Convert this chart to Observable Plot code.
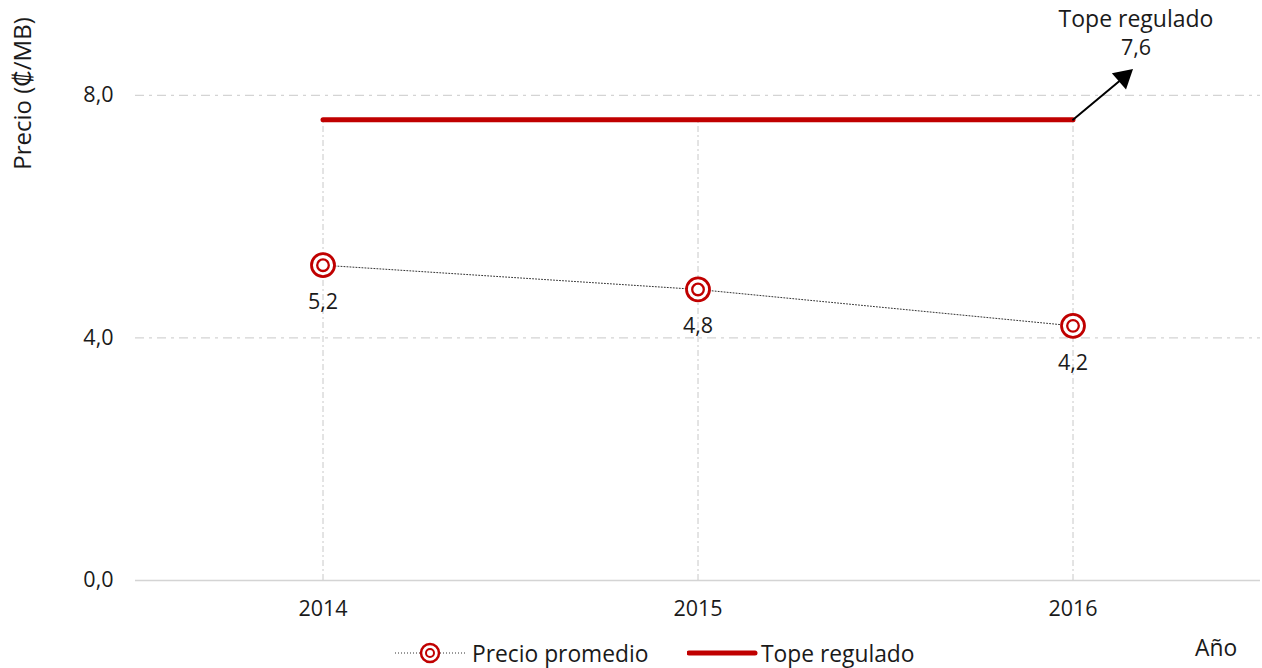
<!DOCTYPE html>
<html>
<head>
<meta charset="utf-8">
<script src="https://cdn.jsdelivr.net/npm/d3@7"></script>
<script src="https://cdn.jsdelivr.net/npm/@observablehq/plot@0.6"></script>
<style>
  body { margin: 0; background: #fff; font-family: "Open Sans", Lato, sans-serif; color: #1a1a1a; }
  #chart { position: relative; width: 1262px; }
  #legend { position: relative; width: 1262px; height: 32px; font-size: 22.8px; }
  .lg { position: absolute; top: 3px; display: flex; align-items: center; height: 28px; }
</style>
</head>
<body>
<div id="chart"></div>
<div id="legend">
  <div class="lg" style="left:395px">
    <svg width="72" height="28"><line x1="0" x2="70" y1="14" y2="14" stroke="#333" stroke-width="1" stroke-dasharray="1,2"/><circle cx="35" cy="14" r="9" fill="#fff" stroke="#c00000" stroke-width="2.5"/><circle cx="35" cy="14" r="4" fill="none" stroke="#c00000" stroke-width="2"/></svg>
    <span style="margin-left:5px">Precio promedio</span>
  </div>
  <div class="lg" style="left:687px">
    <svg width="72" height="28"><line x1="2" x2="68" y1="14" y2="14" stroke="#c00000" stroke-width="5" stroke-linecap="round"/></svg>
    <span style="margin-left:2px">Tope regulado</span>
  </div>
  <div class="lg" style="left:1195px; top:-3px">Año</div>
</div>
<script>
const years = [2014, 2015, 2016];
const precioPromedio = [5.2, 4.8, 4.2];
const topeRegulado = [7.6, 7.6, 7.6];
const yTicks = [0, 4, 8];
const yLabel = "Precio (₡/MB)";
const annotTitle = "Tope regulado";

const fmt = v => v.toFixed(1).replace(".", ",");
const precio = years.map((y, i) => ({year: y, value: precioPromedio[i]}));
const tope = years.map((y, i) => ({year: y, value: topeRegulado[i]}));
const last = tope[tope.length - 1];
const red = "#c00000";
const grid = "#d4d4d4";

const plot = Plot.plot({
  width: 1262,
  height: 636,
  marginLeft: 135,
  marginRight: 2,
  marginTop: 4,
  marginBottom: 56,
  style: {fontFamily: "'Open Sans', Lato, sans-serif", fontSize: "21.5px", color: "#1a1a1a"},
  x: {domain: [2013.5, 2016.5], ticks: years, tickFormat: d => String(d), tickSize: 0, tickPadding: 20, label: null},
  y: {domain: [0, 9.5], ticks: yTicks, tickFormat: fmt, tickSize: 0, tickPadding: 22, label: null},
  marks: [
    Plot.ruleY(yTicks.filter(t => t > 0), {stroke: grid, strokeWidth: 1.3, strokeDasharray: "9,5,3,5"}),
    Plot.ruleY([0], {stroke: grid, strokeWidth: 1.5}),
    Plot.ruleX(tope, {x: "year", y1: 0, y2: "value", stroke: "#c8c8c8", strokeWidth: 1, strokeDasharray: "6,3,2,3"}),
    Plot.line(tope, {x: "year", y: "value", stroke: red, strokeWidth: 5}),
    Plot.line(precio, {x: "year", y: "value", stroke: "#333", strokeWidth: 1, strokeDasharray: "1,2"}),
    Plot.dot(precio, {x: "year", y: "value", r: 11.5, fill: "white", stroke: red, strokeWidth: 2.8}),
    Plot.dot(precio, {x: "year", y: "value", r: 5.8, fill: "none", stroke: red, strokeWidth: 2.3}),
    Plot.text(precio, {x: "year", y: "value", text: d => fmt(d.value), dy: 37, fill: "#1a1a1a"}),
    Plot.arrow([last], {x1: "year", y1: "value", x2: d => d.year + 0.14, y2: d => d.value + 0.72, stroke: "black", strokeWidth: 2, headLength: 0}),
    Plot.dot([last], {x: d => d.year + 0.135, y: d => d.value + 0.7, symbol: "triangle", r: 8, fill: "black", rotate: 49}),
    Plot.text([last], {x: "year", y: "value", text: () => annotTitle, dx: 63, dy: -100, fill: "#1a1a1a", fontSize: 23}),
    Plot.text([last], {x: "year", y: "value", text: d => fmt(d.value), dx: 63, dy: -72, fill: "#1a1a1a"}),
    Plot.text([yLabel], {frameAnchor: "top-left", dx: -122, dy: 89, rotate: -90, textAnchor: "middle", fill: "#1a1a1a", fontSize: 24})
  ]
});
document.getElementById("chart").appendChild(plot);
</script>
</body>
</html>
